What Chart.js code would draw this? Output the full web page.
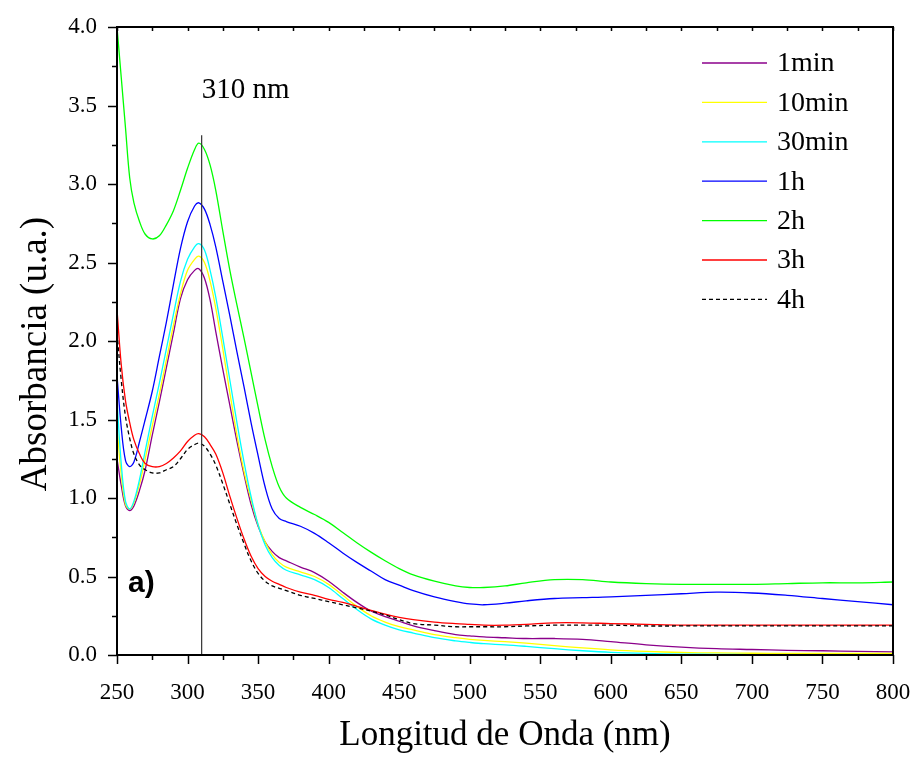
<!DOCTYPE html>
<html>
<head>
<meta charset="utf-8">
<script src="https://cdn.jsdelivr.net/npm/chart.js@4"></script>
<style>
  html, body { margin: 0; padding: 0; background: #fff; }
</style>
</head>
<body>
<canvas id="espectro" width="915" height="757"></canvas>
<script>
// Longitudes de onda (nm) en las que se leen los espectros
const longitudes = [
  250, 253, 256, 259, 262, 266, 270, 275, 280, 285,
  290, 295, 300, 305, 308, 312, 316, 320, 325, 330,
  335, 340, 345, 350, 355, 360, 365, 370, 380, 390,
  400, 410, 420, 430, 440, 450, 460, 475, 490, 500,
  510, 525, 540, 560, 580, 600, 625, 650, 675, 700,
  725, 750, 775, 800
];

// Absorbancia por tiempo de reacción
const abs1min = [
  1.25, 1.08, 0.95, 0.92, 0.95, 1.05, 1.18, 1.40, 1.61, 1.83,
  2.05, 2.27, 2.39, 2.45, 2.46, 2.40, 2.26, 2.06, 1.82, 1.59,
  1.36, 1.15, 0.96, 0.82, 0.72, 0.66, 0.62, 0.60, 0.56, 0.525,
  0.47, 0.40, 0.335, 0.28, 0.245, 0.215, 0.185, 0.155, 0.13, 0.122,
  0.115, 0.11, 0.105, 0.105, 0.10, 0.085, 0.065, 0.05, 0.04, 0.035,
  0.03, 0.027, 0.023, 0.02
];
const abs10min = [
  1.45, 1.15, 0.96, 0.93, 0.97, 1.09, 1.25, 1.46, 1.66, 1.88,
  2.10, 2.30, 2.45, 2.52, 2.54, 2.50, 2.38, 2.21, 1.95, 1.67,
  1.40, 1.17, 0.99, 0.83, 0.72, 0.64, 0.59, 0.56, 0.53, 0.50,
  0.45, 0.38, 0.31, 0.25, 0.21, 0.18, 0.16, 0.13, 0.11, 0.10,
  0.093, 0.085, 0.075, 0.06, 0.045, 0.033, 0.023, 0.016, 0.013, 0.011,
  0.01, 0.01, 0.01, 0.01
];
const abs30min = [
  1.62, 1.22, 0.98, 0.93, 0.98, 1.12, 1.30, 1.52, 1.73, 1.95,
  2.17, 2.38, 2.52, 2.60, 2.62, 2.58, 2.45, 2.28, 2.02, 1.75,
  1.48, 1.23, 1.01, 0.83, 0.70, 0.62, 0.57, 0.54, 0.51, 0.48,
  0.43, 0.36, 0.29, 0.23, 0.19, 0.16, 0.14, 0.11, 0.09, 0.08,
  0.072, 0.065, 0.055, 0.04, 0.027, 0.017, 0.01, 0.006, 0.004, 0.003,
  0.002, 0.002, 0.002, 0.002
];
const abs1h = [
  1.78, 1.45, 1.24, 1.20, 1.23, 1.36, 1.50, 1.68, 1.90, 2.12,
  2.36, 2.59, 2.76, 2.86, 2.88, 2.84, 2.74, 2.60, 2.38, 2.16,
  1.93, 1.71, 1.48, 1.27, 1.07, 0.93, 0.87, 0.85, 0.82, 0.775,
  0.715, 0.65, 0.59, 0.535, 0.48, 0.445, 0.41, 0.37, 0.34, 0.325,
  0.32, 0.33, 0.345, 0.36, 0.365, 0.37, 0.38, 0.39, 0.40, 0.395,
  0.38, 0.36, 0.34, 0.32
];
const abs2h = [
  4.00, 3.68, 3.36, 3.04, 2.88, 2.76, 2.68, 2.65, 2.67, 2.74,
  2.83, 2.96, 3.10, 3.22, 3.26, 3.22, 3.12, 2.96, 2.70, 2.45,
  2.23, 2.02, 1.80, 1.58, 1.37, 1.20, 1.07, 1.00, 0.94, 0.895,
  0.845, 0.78, 0.715, 0.655, 0.60, 0.55, 0.51, 0.47, 0.44, 0.43,
  0.43, 0.44, 0.46, 0.48, 0.48, 0.465, 0.455, 0.45, 0.45, 0.45,
  0.455, 0.46, 0.46, 0.465
];
const abs3h = [
  2.20, 1.85, 1.62, 1.48, 1.37, 1.28, 1.22, 1.20, 1.20, 1.22,
  1.255, 1.30, 1.36, 1.40, 1.41, 1.39, 1.34, 1.28, 1.16, 1.01,
  0.87, 0.74, 0.63, 0.55, 0.50, 0.47, 0.45, 0.43, 0.40, 0.38,
  0.355, 0.335, 0.31, 0.285, 0.26, 0.24, 0.225, 0.21, 0.20, 0.195,
  0.19, 0.19, 0.195, 0.205, 0.205, 0.20, 0.195, 0.19, 0.19, 0.19,
  0.19, 0.19, 0.19, 0.19
];
const abs4h = [
  2.05, 1.75, 1.52, 1.38, 1.28, 1.21, 1.18, 1.16, 1.16, 1.18,
  1.20, 1.25, 1.31, 1.34, 1.35, 1.33, 1.28, 1.21, 1.09, 0.96,
  0.83, 0.71, 0.60, 0.52, 0.47, 0.44, 0.425, 0.41, 0.38, 0.36,
  0.34, 0.32, 0.30, 0.28, 0.255, 0.225, 0.20, 0.19, 0.18, 0.18,
  0.18, 0.18, 0.185, 0.19, 0.19, 0.19, 0.185, 0.185, 0.185, 0.185,
  0.185, 0.185, 0.185, 0.185
];

const etiquetas = ["1min", "10min", "30min", "1h", "2h", "3h", "4h"];
const colores = ["#8b008b", "#ffff00", "#00ffff", "#0000ff", "#00ff00", "#ff0000", "#000000"];

// Línea vertical del máximo
const picoX = [310, 310];
const picoY = [0, 3.31];
const picoTexto = "310 nm";

const serif = "'Liberation Serif', 'Times New Roman', serif";

function puntos(xs, ys) {
  return xs.map((x, i) => ({ x: x, y: ys[i] }));
}

const valores = [abs1min, abs10min, abs30min, abs1h, abs2h, abs3h, abs4h];
const datasets = valores.map((v, i) => ({
  label: etiquetas[i],
  data: puntos(longitudes, v),
  borderColor: colores[i],
  borderWidth: 1.3,
  borderDash: etiquetas[i] === "4h" ? [4, 3] : [],
  pointRadius: 0,
  tension: 0.35,
  fill: false,
  order: valores.length - i
}));

datasets.push({
  label: "pico",
  data: puntos(picoX, picoY),
  borderColor: "#333",
  borderWidth: 1.2,
  pointRadius: 0,
  order: 0
});

// Marco, marcas de los ejes, leyenda y rótulos
const marco = {
  id: "marco",
  afterDatasetsDraw(chart) {
    const { ctx, chartArea: a, scales } = chart;
    const x = scales.x, y = scales.y;
    ctx.save();
    ctx.strokeStyle = "#000";
    ctx.lineWidth = 2;
    ctx.strokeRect(a.left, a.top, a.right - a.left, a.bottom - a.top);

    ctx.lineWidth = 1.5;
    ctx.beginPath();
    for (let v = 250; v <= 800; v += 25) {
      const px = Math.round(x.getPixelForValue(v)) + 0.5;
      const largo = v % 50 === 0 ? 9 : 5;
      ctx.moveTo(px, a.bottom);
      ctx.lineTo(px, a.bottom + largo);
      ctx.moveTo(px, a.top);
      ctx.lineTo(px, a.top + 4);
    }
    for (let k = 0; k <= 16; k++) {
      const py = Math.round(y.getPixelForValue(k * 0.25)) + 0.5;
      const largo = k % 2 === 0 ? 9 : 5;
      ctx.moveTo(a.left, py);
      ctx.lineTo(a.left - largo, py);
    }
    ctx.stroke();

    ctx.fillStyle = "#000";

    // título del eje y
    ctx.save();
    ctx.translate(36, (a.top + a.bottom) / 2 + 13);
    ctx.rotate(-Math.PI / 2);
    ctx.font = "37px " + serif;
    ctx.textAlign = "center";
    ctx.textBaseline = "middle";
    ctx.fillText("Absorbancia (u.a.)", 0, 0);
    ctx.restore();

    // texto del máximo
    ctx.font = "29px " + serif;
    ctx.textAlign = "left";
    ctx.textBaseline = "alphabetic";
    ctx.fillText(picoTexto, x.getPixelForValue(picoX[0]), y.getPixelForValue(3.55));

    // a)
    ctx.font = "bold 30px 'Liberation Sans', Arial, sans-serif";
    ctx.textBaseline = "middle";
    ctx.fillText("a)", a.left + 11, 584);

    // leyenda
    ctx.font = "28px " + serif;
    ctx.textBaseline = "middle";
    chart.data.datasets.forEach((ds, i) => {
      if (i >= etiquetas.length) return;
      const fy = 63 + i * 39.4;
      ctx.strokeStyle = ds.borderColor;
      ctx.lineWidth = 1.3;
      ctx.setLineDash(ds.borderDash || []);
      ctx.beginPath();
      ctx.moveTo(a.right - 191, fy);
      ctx.lineTo(a.right - 126, fy);
      ctx.stroke();
      ctx.setLineDash([]);
      ctx.fillStyle = "#000";
      ctx.fillText(ds.label, a.right - 116, fy + 1);
    });
    ctx.restore();
  }
};

Chart.defaults.color = "#000";

function sinRelleno(s) {
  s.paddingLeft = 0;
  s.paddingRight = 0;
  s.paddingTop = 0;
  s.paddingBottom = 0;
}

new Chart(document.getElementById("espectro"), {
  type: "line",
  data: { datasets: datasets },
  options: {
    responsive: false,
    devicePixelRatio: 1,
    animation: false,
    layout: { padding: { top: 27, right: 22, left: 0, bottom: 0 } },
    plugins: { legend: { display: false }, tooltip: { enabled: false } },
    scales: {
      x: {
        type: "linear",
        min: 250,
        max: 800,
        grid: { display: false },
        border: { display: false },
        afterFit(s) { s.height = 102; sinRelleno(s); },
        ticks: { stepSize: 50, padding: 16, font: { family: serif, size: 23 } },
        title: {
          display: true,
          text: "Longitud de Onda (nm)",
          font: { family: serif, size: 35 },
          padding: { top: 0, bottom: 0 }
        }
      },
      y: {
        min: 0,
        max: 4,
        grid: { display: false },
        border: { display: false },
        afterFit(s) { s.width = 117; sinRelleno(s); },
        ticks: {
          stepSize: 0.5,
          padding: 12,
          font: { family: serif, size: 23 },
          callback: (v) => v.toFixed(1)
        }
      }
    }
  },
  plugins: [marco]
});
</script>
</body>
</html>
